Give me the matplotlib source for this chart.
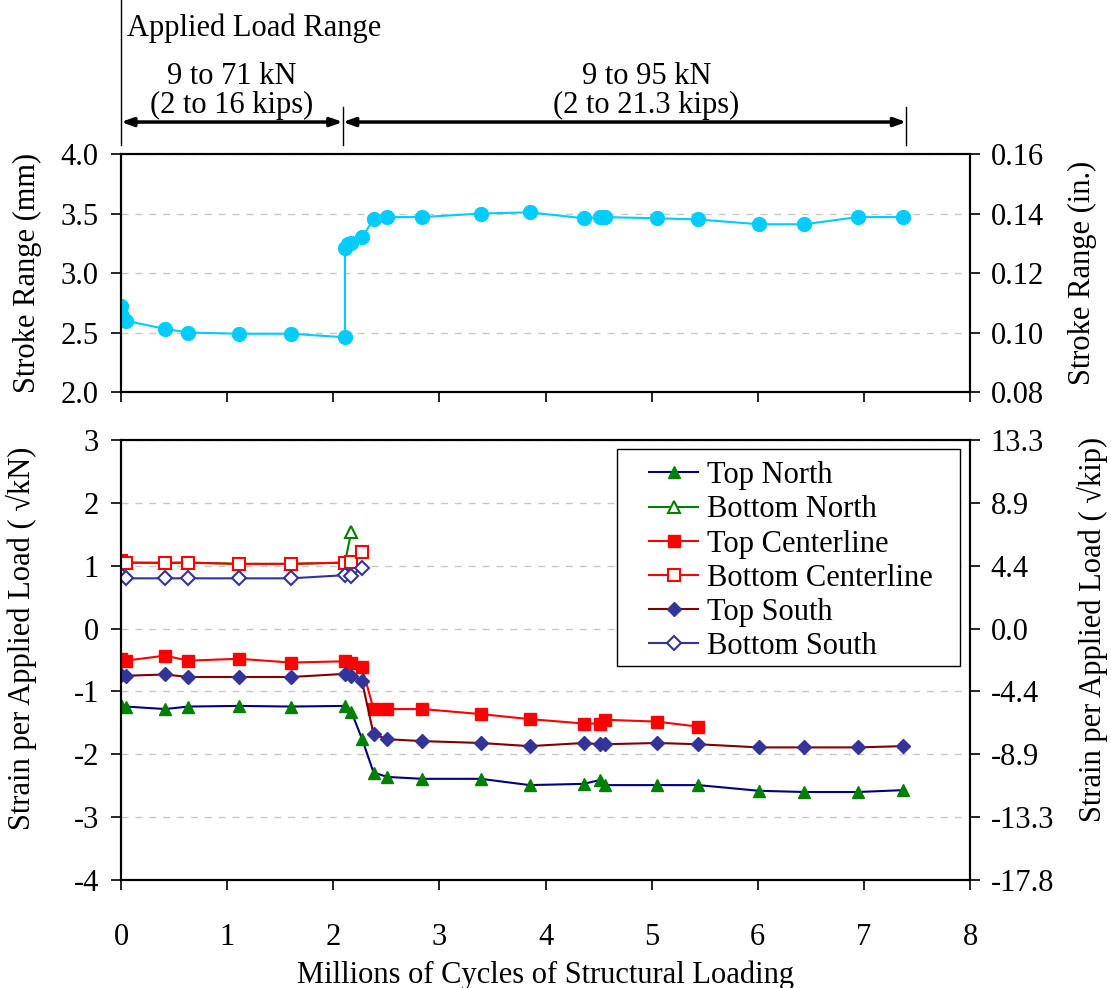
import matplotlib
matplotlib.use('Agg')
import matplotlib.pyplot as plt
import matplotlib.patches as patches
import numpy as np

plt.rcParams['font.family'] = ['Liberation Serif', 'DejaVu Serif']
plt.rcParams['axes.unicode_minus'] = False
FS = 22

# Stroke range data (millions of cycles, mm)
stroke_x = [0.0, 0.005, 0.044, 0.415, 0.635, 1.11, 1.60, 2.11, 2.11, 2.14, 2.17, 2.27, 2.38,
            2.51, 2.84, 3.39, 3.85, 4.36, 4.51, 4.56, 5.05, 5.44, 6.01, 6.44, 6.94, 7.37]
stroke_mm = [2.72, 2.64, 2.60, 2.53, 2.50, 2.49, 2.49, 2.46, 3.21, 3.24, 3.25, 3.30, 3.45,
             3.47, 3.47, 3.50, 3.51, 3.46, 3.47, 3.47, 3.46, 3.45, 3.41, 3.41, 3.47, 3.47]

# Strain per applied load data
top_x = [0.0, 0.044, 0.415, 0.635, 1.11, 1.60, 2.11, 2.17, 2.27, 2.38, 2.51, 2.84, 3.39,
         3.85, 4.36, 4.51, 4.56, 5.05, 5.44, 6.01, 6.44, 6.94, 7.37]
top_north = [-1.22, -1.24, -1.28, -1.24, -1.23, -1.24, -1.23, -1.32, -1.75, -2.29, -2.36, -2.39,
             -2.39, -2.49, -2.47, -2.41, -2.49, -2.49, -2.49, -2.58, -2.60, -2.60, -2.57]
top_center = [-0.49, -0.51, -0.43, -0.51, -0.48, -0.54, -0.52, -0.54, -0.61, -1.28, -1.28, -1.28,
              -1.36, -1.44, -1.51, -1.51, -1.45, -1.48, -1.56]
top_south = [-0.74, -0.75, -0.73, -0.77, -0.77, -0.77, -0.72, -0.75, -0.83, -1.68, -1.76, -1.79,
             -1.82, -1.87, -1.82, -1.84, -1.84, -1.82, -1.84, -1.89, -1.89, -1.89, -1.87]

bot_x = [0.0, 0.044, 0.415, 0.635, 1.11, 1.60, 2.11, 2.17, 2.27]
bot_north = [1.07, 1.05, 1.04, 1.05, 1.03, 1.03, 1.05, 1.54]
bot_center = [1.07, 1.05, 1.05, 1.05, 1.03, 1.03, 1.05, 1.06, 1.22]
bot_south = [0.85, 0.80, 0.80, 0.80, 0.80, 0.80, 0.85, 0.84, 0.97]

KN_PER_KIP = 4.448

fig = plt.figure(figsize=(11.11, 9.88), dpi=100)
ax1 = fig.add_axes([0.1089, 0.6032, 0.7642, 0.2409])
ax2 = fig.add_axes([0.1089, 0.1093, 0.7642, 0.4453])

grid_kw = dict(color='#c8c8c8', linestyle=(0, (5, 5)), linewidth=1.0)

# ---- top: stroke range
ax1.plot(stroke_x, stroke_mm, color='#00ccff', marker='o', markersize=10, linewidth=1.5)
ax1.set_xlim(0, 8)
ax1.set_ylim(2.0, 4.0)
ax1.set_yticks([2.0, 2.5, 3.0, 3.5, 4.0])
ax1.set_yticklabels([f'{v:.1f}' for v in [2.0, 2.5, 3.0, 3.5, 4.0]])
ax1.set_xticks(range(9))
ax1.set_xticklabels([])
ax1.yaxis.grid(True, **grid_kw)
ax1.set_axisbelow(True)
ax1.set_ylabel('Stroke Range (mm)', fontsize=FS)
ax1.yaxis.set_label_coords(-0.093, 0.5)

ax1r = ax1.twinx()
ax1r.set_ylim(0.08, 0.16)
ax1r.set_yticks([0.08, 0.10, 0.12, 0.14, 0.16])
ax1r.set_yticklabels([f'{v:.2f}' for v in [0.08, 0.10, 0.12, 0.14, 0.16]])
ax1r.set_ylabel('Stroke Range (in.)', fontsize=FS)
ax1r.yaxis.set_label_coords(1.115, 0.5)

# ---- bottom: strain per applied load
ax2.plot(top_x, top_north, color='#000080', lw=1.5, marker='^', ms=9,
         mfc='#008000', mec='#008000', label='Top North')
ax2.plot(bot_x[:len(bot_north)], bot_north, color='#008000', lw=1.5, marker='^', ms=8,
         mfc='white', mec='#008000', mew=1.5, label='Bottom North')
ax2.plot(top_x[:len(top_center)], top_center, color='#ff0000', lw=1.5, marker='s', ms=9,
         mfc='#ff0000', mec='#ff0000', label='Top Centerline')
ax2.plot(bot_x, bot_center, color='#ff0000', lw=1.5, marker='s', ms=8,
         mfc='white', mec='#ff0000', mew=1.5, label='Bottom Centerline')
ax2.plot(top_x, top_south, color='#800000', lw=1.5, marker='D', ms=7,
         mfc='#333399', mec='#333399', label='Top South')
ax2.plot(bot_x, bot_south, color='#333399', lw=1.5, marker='D', ms=7,
         mfc='white', mec='#333399', mew=1.5, label='Bottom South')

ax2.set_xlim(0, 8)
ax2.set_ylim(-4, 3)
ax2.set_yticks(range(-4, 4))
ax2.set_xticks(range(9))
ax2.yaxis.grid(True, **grid_kw)
ax2.set_axisbelow(True)
ax2.set_xlabel('Millions of Cycles of Structural Loading', fontsize=FS, labelpad=6)
ax2.set_ylabel('Strain per Applied Load ( \u221akN)', fontsize=FS)
ax2.yaxis.set_label_coords(-0.099, 0.55)

ax2r = ax2.twinx()
ax2r.set_ylim(-4 * KN_PER_KIP, 3 * KN_PER_KIP)
kip_ticks = np.arange(-4, 4) * KN_PER_KIP
ax2r.set_yticks(kip_ticks)
ax2r.set_yticklabels([f'{v:.1f}' for v in kip_ticks])
ax2r.set_ylabel('Strain per Applied Load ( \u221akip)', fontsize=FS)
ax2r.yaxis.set_label_coords(1.126, 0.57)

# legend: entries without frame, frame drawn as a box behind them
leg = ax2r.legend(*ax2.get_legend_handles_labels(), loc='upper left',
                  bbox_to_anchor=(0.622, 0.952), borderaxespad=0, borderpad=0,
                  fontsize=FS, frameon=False, labelspacing=0.17, handlelength=1.6,
                  handletextpad=0.3)
frame = patches.Rectangle((0.5842, 0.4864), 0.404, 0.4931, transform=ax2.transAxes,
                          facecolor='white', edgecolor='black', lw=1.0, zorder=4)
ax2.add_patch(frame)

for a in (ax1, ax1r, ax2, ax2r):
    for s in a.spines.values():
        s.set_color('black')
        s.set_linewidth(1.5)
    a.tick_params(labelsize=FS, direction='out', length=7, width=1.2)
ax2.tick_params(axis='x', pad=24)
ax1.tick_params(axis='y', pad=9)
ax2.tick_params(axis='y', pad=9)
ax1r.tick_params(axis='y', pad=8)
ax2r.tick_params(axis='y', pad=8)

# ---- applied load range annotation above the top axes
tr = ax1.get_xaxis_transform()
h = 238.0
def ay(py):
    return 1 + (154 - py) / h

split_x = 2.09
end_x = 7.4
ax1.plot([0, 0], [ay(0), ay(145)], transform=tr, color='black', lw=1, clip_on=False)
ax1.plot([split_x, split_x], [ay(107), ay(145)], transform=tr, color='black', lw=1, clip_on=False)
ax1.plot([end_x, end_x], [ay(107), ay(145)], transform=tr, color='black', lw=1, clip_on=False)
arrow_kw = dict(arrowstyle='<|-|>,head_length=0.7,head_width=0.25', color='black', lw=2.5,
                shrinkA=0, shrinkB=0)
ax1.annotate('', xy=(0, ay(122)), xytext=(split_x, ay(122)), xycoords=tr, textcoords=tr,
             arrowprops=arrow_kw, annotation_clip=False)
ax1.annotate('', xy=(split_x, ay(122)), xytext=(end_x, ay(122)), xycoords=tr, textcoords=tr,
             arrowprops=arrow_kw, annotation_clip=False)

ax1.text(0.06, ay(28), 'Applied Load Range', transform=tr, fontsize=FS, ha='left', va='center')
ax1.text(1.045, ay(76), '9 to 71 kN', transform=tr, fontsize=FS, ha='center', va='center')
ax1.text(1.045, ay(105), '(2 to 16 kips)', transform=tr, fontsize=FS, ha='center', va='center')
ax1.text(4.95, ay(76), '9 to 95 kN', transform=tr, fontsize=FS, ha='center', va='center')
ax1.text(4.95, ay(105), '(2 to 21.3 kips)', transform=tr, fontsize=FS, ha='center', va='center')

fig.savefig('out.png', dpi=100)
